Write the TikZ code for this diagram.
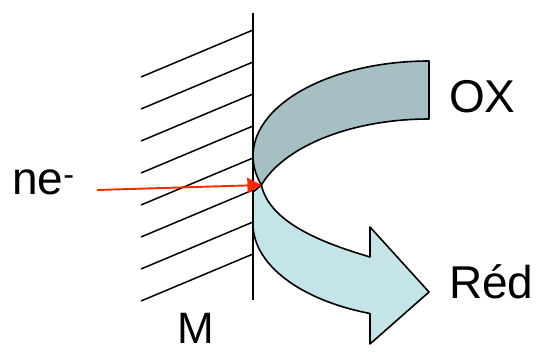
\documentclass[tikz,border=0pt]{standalone}
\usepackage{fontspec}
\setmainfont{Liberation Sans}
\usetikzlibrary{arrows.meta}
\definecolor{oxfill}{RGB}{165,191,195}
\definecolor{redfill}{RGB}{197,228,232}
\definecolor{arrred}{RGB}{255,40,0}
\begin{document}
\begin{tikzpicture}[x=1pt,y=-1pt,
  hatch/.style={line width=1.5pt},
  band/.style={draw=black,line width=1.6pt,line join=round},
  lbl/.style={inner sep=0pt,anchor=base west,font=\fontsize{46}{50}\selectfont}]
\useasboundingbox (0,0) rectangle (538,352);
\coordinate (J) at (261.4,185);
\coordinate (estart) at (97,190);
\coordinate (wtop) at (253,13);
\coordinate (wbot) at (253,300);
% back band (OX)
\draw[band,fill=oxfill]
  plot[domain=90:197.78,samples=60,variable=\t] ({429+176*cos(\t)},{156-95*sin(\t)})
  -- plot[domain=162.22:90,samples=60,variable=\t] ({429+176*cos(\t)},{214-95*sin(\t)})
  -- cycle;
% front band with head (Red)
\draw[band,fill=redfill]
  (J) .. controls (270,225) and (330,245) .. (370,257)
  -- (370,227) -- (429,292) -- (370,344) -- (370,314)
  -- plot[domain=250.4:180,samples=60,variable=\t] ({429+176*cos(\t)},{224-95*sin(\t)})
  -- (253,192) -- cycle;
% hatching
\foreach \i in {0,...,7}
  \draw[hatch] (141,{77+32*\i}) -- (253,{30+32*\i});
% wall
\draw[line width=1.9pt] (wtop) -- (wbot);
% electron arrow
\draw[arrred,line width=1.9pt,-{Triangle[length=14pt,width=15pt]}] (estart) -- (J);
% labels
\node[lbl] (ox) at (449,113) {OX};
\node[lbl] (red) at (449,299) {Réd};
\node[lbl] (ne) at (12,195) {ne\textsuperscript{-}};
\node[lbl,font=\fontsize{44}{48}\selectfont] (m) at (177,344) {M};
\end{tikzpicture}
\end{document}
